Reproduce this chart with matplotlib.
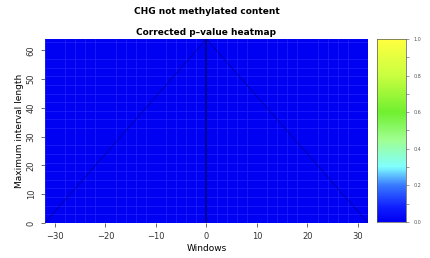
import matplotlib
matplotlib.use("Agg")
import matplotlib.pyplot as plt
import numpy as np
from matplotlib.colors import LinearSegmentedColormap

# window edges and interval lengths of the heatmap grid
window_edges = list(range(-32, 33))
length_edges = list(range(0, 65))
# corrected p-values: every cell reads as ~0 on the picture
pvalues = np.zeros((len(length_edges) - 1, len(window_edges) - 1))

# dark guide lines seen on the picture (triangle and centre)
tri_x = [-32, 0, 32]
tri_y = [0, 64, 0]
mid_x = [0, 0]
mid_y = [0, 64]

xticks = [-30, -20, -10, 0, 10, 20, 30]
yticks = [0, 10, 20, 30, 40, 50, 60]
cticks = [0.0, 0.2, 0.4, 0.6, 0.8, 1.0]

cmap = LinearSegmentedColormap.from_list("pv", [
	(0.0, "#0000f2"), (0.08, "#1020ff"), (0.2, "#3a7cff"), (0.3, "#80ffff"),
	(0.45, "#a0ff90"), (0.6, "#70f030"), (0.8, "#c8ff40"), (1.0, "#ffff40")])

fig = plt.figure(figsize=(4.31, 2.58), dpi=100)
ax = fig.add_axes([0.104, 0.136, 0.750, 0.713])
ax.pcolormesh(window_edges, length_edges, pvalues, cmap=cmap, vmin=0, vmax=1)
ax.set_xticks(window_edges[::2], minor=True)
ax.set_yticks(length_edges[::3], minor=True)
ax.grid(which="minor", color="#2a2aff", lw=0.4)
ax.plot(tri_x, tri_y, color="#00008a", lw=0.7, alpha=0.6)
ax.plot(mid_x, mid_y, color="#000080", lw=1.2)
ax.set_xlim(-32, 32)
ax.set_ylim(0, 64)
for s in ax.spines.values():
	s.set_visible(False)
ax.set_xticks(xticks)
ax.set_yticks(yticks)
ax.tick_params(labelsize=6, length=3, width=0.5, colors="#333333")
ax.tick_params(which="minor", length=0)
for lab in ax.get_yticklabels():
	lab.set_rotation(90)
	lab.set_va("center")
ax.set_xlabel("Windows", fontsize=6.5, labelpad=2)
ax.set_ylabel("Maximum interval length", fontsize=6.5, labelpad=2)
ax.set_title("Corrected p\u2013value heatmap", fontsize=6.5, fontweight="bold", pad=3)
fig.text(0.48, 0.955, "CHG not methylated content", ha="center", va="center",
	fontsize=6.5, fontweight="bold")

cax = fig.add_axes([0.875, 0.14, 0.067, 0.709])
grad = np.linspace(0, 1, 200).reshape(-1, 1)
cax.imshow(grad, aspect="auto", origin="lower", cmap=cmap, extent=[0, 1, 0, 1])
cax.set_xticks([])
cax.yaxis.tick_right()
cax.set_yticks(cticks)
cax.set_yticklabels(["%.1f" % t for t in cticks])
cax.set_yticks([0.1, 0.3, 0.5, 0.7, 0.9], minor=True)
cax.tick_params(labelsize=3.5, length=2, width=0.4, colors="#555555")
cax.tick_params(which="minor", length=2, width=0.4, colors="#555555")
for s in cax.spines.values():
	s.set_linewidth(0.5)
	s.set_color("#555555")

fig.savefig("out.png", dpi=100)
